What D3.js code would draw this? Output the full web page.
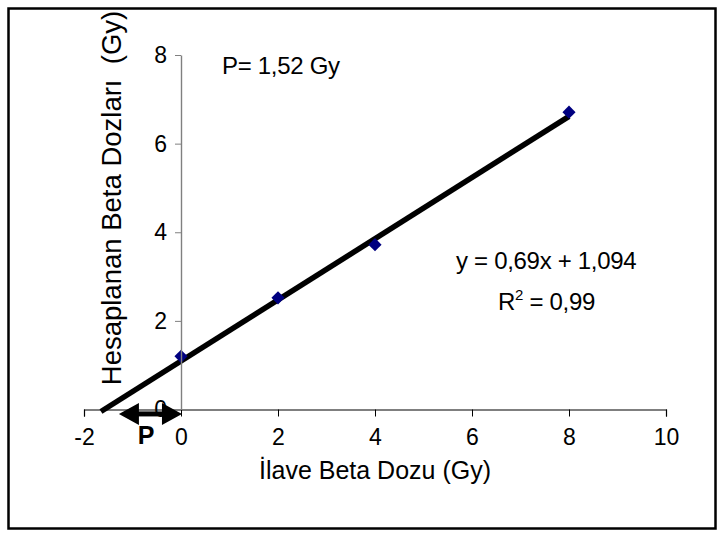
<!DOCTYPE html>
<html>
<head>
<meta charset="utf-8">
<script src="https://cdn.jsdelivr.net/npm/d3@7"></script>
<style>
    body { margin: 0; background: #fff; }
    svg { display: block; font-family: "Liberation Sans", Arial, sans-serif; }
    text { white-space: pre; }
</style>
</head>
<body>
<div id="chart"></div>
<script>
/* eslint-env browser */

// measured points (ilave doz, hesaplanan doz)
var addedDose = [0, 2, 4, 8],
    calcDose = [1.2, 2.52, 3.72, 6.71],
    xTicks = [-2, 0, 2, 4, 6, 8, 10],
    yTicks = [0, 2, 4, 6, 8],
    slope = 0.69,
    intercept = 1.094,
    trendRange = [-1.65, 8],
    arrowRange = [-1.28, 0.02],
    xTitle = "İlave Beta Dozu (Gy)",
    yTitle = "Hesaplanan Beta Dozları  (Gy)",
    eqText = "y = 0,69x + 1,094",
    pText = "P= 1,52 Gy";

var colorPoint = "#000080";

function drawChart() {
    var width = 724,
        height = 534,
        svg = d3.select("#chart").append("svg")
            .attr("width", width)
            .attr("height", height),
        x = d3.scaleLinear()
            .domain([-2, 10])
            .range([84, 666]),
        y = d3.scaleLinear()
            .domain([0, 8])
            .range([409.5, 55]),
        points = addedDose.map(function (d, i) { return { x: d, y: calcDose[i] }; });

    // outer frame
    svg.append("rect")
        .attr("x", 8.5)
        .attr("y", 8.5)
        .attr("width", 707)
        .attr("height", 520)
        .attr("fill", "none")
        .attr("stroke", "#000")
        .attr("stroke-width", 2.5);

    // x axis, crossing at y = 0
    var xAxis = svg.append("g")
        .attr("transform", "translate(0," + y(0) + ")")
        .call(d3.axisBottom(x).tickValues(xTicks).tickSize(7).tickPadding(12).tickFormat(String));
    xAxis.select(".domain").attr("stroke", "#000").attr("stroke-width", 1.2);
    xAxis.selectAll("line").attr("stroke", "#000");
    xAxis.selectAll("text")
        .attr("font-size", 23)
        .attr("fill", "#000")
        .style("font-family", "Liberation Sans, Arial, sans-serif");

    // y axis, crossing at x = 0
    var yAxis = svg.append("g")
        .attr("transform", "translate(" + x(0) + ",0)")
        .call(d3.axisLeft(y).tickValues(yTicks).tickSize(6).tickPadding(8).tickSizeOuter(0));
    yAxis.select(".domain").attr("stroke", "#808080").attr("stroke-width", 1.4);
    yAxis.selectAll("line").attr("stroke", "#808080");
    yAxis.selectAll("text")
        .attr("font-size", 23)
        .attr("fill", "#000")
        .style("font-family", "Liberation Sans, Arial, sans-serif");

    // axis titles
    svg.append("text")
        .attr("x", 375)
        .attr("y", 479)
        .attr("text-anchor", "middle")
        .attr("font-size", 25)
        .text(xTitle);

    svg.append("text")
        .attr("transform", "translate(121,198) rotate(-90)")
        .attr("text-anchor", "middle")
        .attr("font-size", 27.5)
        .text(yTitle);

    // trend line
    svg.append("line")
        .attr("x1", x(trendRange[0]))
        .attr("y1", y(slope * trendRange[0] + intercept))
        .attr("x2", x(trendRange[1]))
        .attr("y2", y(slope * trendRange[1] + intercept))
        .attr("stroke", "#000")
        .attr("stroke-width", 5.5);

    // data markers
    svg.append("g")
        .selectAll("path")
        .data(points)
        .enter().append("path")
        .attr("d", d3.symbol().type(d3.symbolDiamond2).size(110))
        .attr("transform", function (d) { return "translate(" + x(d.x) + "," + y(d.y) + ")"; })
        .attr("fill", colorPoint);

    // "0" y label sits under the P arrow
    yAxis.raise();

    // P arrow, drawn as a shaft plus two triangular heads
    var ay = y(-0.1),
        ax0 = x(arrowRange[0]),
        ax1 = x(arrowRange[1]),
        headLen = 20,
        headHalf = 11;

    svg.append("line")
        .attr("x1", ax0 + headLen - 1)
        .attr("y1", ay)
        .attr("x2", ax1 - headLen + 1)
        .attr("y2", ay)
        .attr("stroke", "#000")
        .attr("stroke-width", 5);

    svg.append("path")
        .attr("d", "M" + ax0 + "," + ay + "L" + (ax0 + headLen) + "," + (ay - headHalf) +
            "L" + (ax0 + headLen) + "," + (ay + headHalf) + "Z" +
            "M" + ax1 + "," + ay + "L" + (ax1 - headLen) + "," + (ay - headHalf) +
            "L" + (ax1 - headLen) + "," + (ay + headHalf) + "Z")
        .attr("fill", "#000");

    svg.append("text")
        .attr("x", x(-0.72))
        .attr("y", 444)
        .attr("text-anchor", "middle")
        .attr("font-size", 25)
        .attr("font-weight", "bold")
        .text("P");

    // annotations
    svg.append("text")
        .attr("x", 222)
        .attr("y", 74)
        .attr("font-size", 24)
        .attr("letter-spacing", -0.3)
        .text(pText);

    svg.append("text")
        .attr("x", 456)
        .attr("y", 269)
        .attr("font-size", 24)
        .attr("letter-spacing", -0.3)
        .text(eqText);

    var r2 = svg.append("text")
        .attr("x", 498)
        .attr("y", 310)
        .attr("font-size", 24)
        .attr("letter-spacing", -0.3);
    r2.append("tspan").text("R");
    r2.append("tspan").attr("dy", -10).attr("font-size", 15).text("2");
    r2.append("tspan").attr("dy", 10).text(" = 0,99");
}

drawChart();
</script>
</body>
</html>
